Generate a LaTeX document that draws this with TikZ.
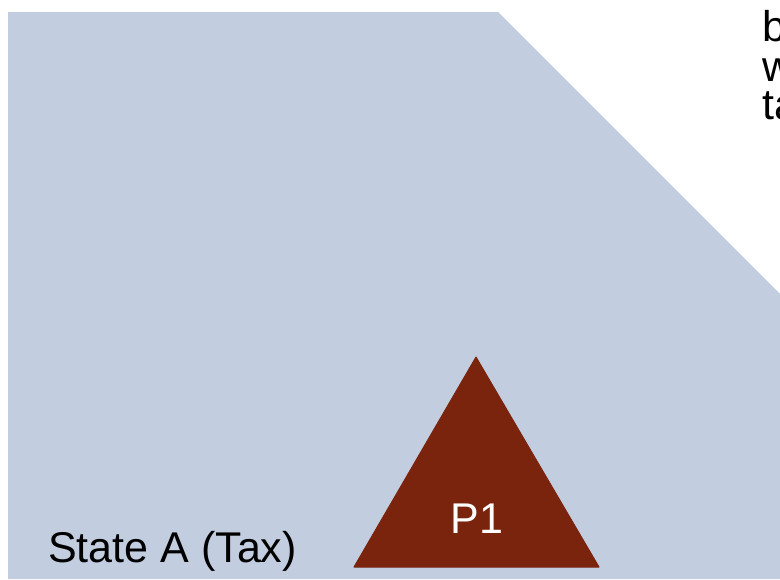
\documentclass[tikz,border=0pt]{standalone}
\usepackage{fontspec}
\setmainfont{Liberation Sans}
\usetikzlibrary{calc}

\definecolor{regionblue}{HTML}{C2CDDF}
\definecolor{plantbrown}{HTML}{7A240E}

\begin{document}
\begin{tikzpicture}[x=1pt, y=-1pt,
  region/.style={fill=regionblue, draw=none},
  plant/.style={fill=plantbrown, draw=plantbrown, line join=round, line width=1pt},
  bigtext/.style={font=\fontsize{43}{48}\selectfont, inner sep=0pt, anchor=base west},
]
  % 画布 780 x 579
  \useasboundingbox (0,0) rectangle (780,579);
  % 国家 A 的区域（右上角切去）
  \coordinate (R1) at (8,12);
  \coordinate (R2) at (498,12);
  \coordinate (R3) at (780,294);
  \coordinate (R4) at (780,579);
  \coordinate (R5) at (8,579);
  \fill[region] (R1) -- (R2) -- (R3) -- (R4) -- (R5) -- cycle;
  % 三角形 P1
  \coordinate (T) at (476,357);
  \coordinate (L) at (354,567);
  \coordinate (Rt) at (599,567);
  \filldraw[plant] (T) -- (L) -- (Rt) -- cycle;
  \node[bigtext, text=white, anchor=base] (p1) at (477,533) {P1};
  % 标签
  \node[bigtext] (stateA) at (48,562) {State A (Tax)};
  % 右上角被截断的文字
  \node[bigtext] (t1) at (762,41) {b};
  \node[bigtext] (t2) at (762,81) {w};
  \node[bigtext] (t3) at (762,119) {ta};
\end{tikzpicture}
\end{document}
